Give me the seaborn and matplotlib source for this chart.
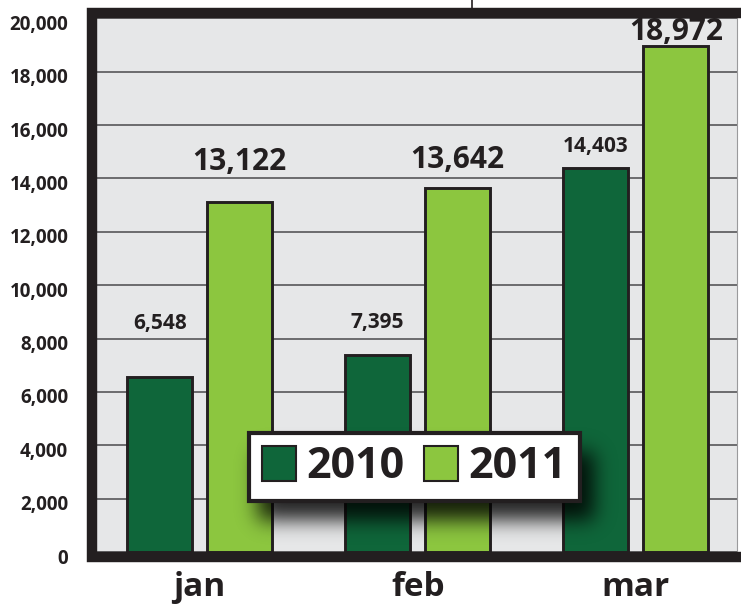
import numpy as np
import pandas as pd
import matplotlib
matplotlib.use("Agg")
import matplotlib.pyplot as plt
import matplotlib.transforms as mtransforms
from matplotlib.lines import Line2D
from matplotlib.patches import Patch
import seaborn as sns

# ---- data -------------------------------------------------------------
months = ["jan", "feb", "mar"]
years = ["2010", "2011"]
sales_2010 = [6548, 7395, 14403]
sales_2011 = [13122, 13642, 18972]
y_ticks = [0, 2000, 4000, 6000, 8000, 10000, 12000, 14000, 16000, 18000, 20000]

df = pd.DataFrame({
    "month": months * 2,
    "year": [years[0]] * 3 + [years[1]] * 3,
    "value": sales_2010 + sales_2011,
})

# ---- style ------------------------------------------------------------
W, H = 741, 607
INK = "#231f20"
DARK = "#0f663a"
LIGHT = "#8cc63f"
BG = "#e6e7e8"

sns.set_theme(style="white")
plt.rcParams["font.family"] = ["Open Sans", "DejaVu Sans"]
plt.rcParams["font.weight"] = "bold"
plt.rcParams["text.color"] = INK

fig = plt.figure(figsize=(W / 100, H / 100), dpi=100)
fig.patch.set_facecolor("white")


def fx(x):
    return x / W


def fy(y):
    return 1 - y / H


ax = fig.add_axes([fx(97), fy(552), (737 - 97) / W, (552 - 18.3) / H])
ax.set_facecolor(BG)

sns.barplot(
    data=df, x="month", y="value", hue="year", hue_order=years,
    palette=[DARK, LIGHT], saturation=1, width=0.734, gap=0.1875,
    edgecolor=INK, linewidth=2.1, errorbar=None, legend=False, ax=ax,
)

ax.set_xlim(-0.471, 2.464)
ax.set_ylim(0, 20000)
ax.set_yticks(y_ticks)
ax.set_yticklabels([f"{v:,}" for v in y_ticks])
ax.set_xlabel("")
ax.set_ylabel("")
ax.yaxis.grid(True, color="#4a4a4c", linewidth=1.1)
ax.xaxis.grid(False)
ax.set_axisbelow(True)
for side, spine in ax.spines.items():
    spine.set_visible(side == "right")
ax.spines["right"].set_color("#9a9a9c")
ax.spines["right"].set_linewidth(0.8)
ax.tick_params(axis="y", length=0, pad=20.7, labelsize=13.5, labelcolor=INK)
ax.tick_params(axis="x", length=0, pad=13.6, labelsize=24, labelcolor=INK)

# nudge the value axis labels slightly below their gridlines
shift = mtransforms.ScaledTranslation(0, -4 / 100, fig.dpi_scale_trans)
for tick in ax.yaxis.get_major_ticks():
    tick.label1.set_transform(tick.label1.get_transform() + shift)

# ---- value labels -----------------------------------------------------
label_pads = {"2010": [48, 27, 16], "2011": [32, 20, 6]}
label_sizes = {"2010": 15, "2011": 21.5}
series = {"2010": sales_2010, "2011": sales_2011}
for year, container in zip(years, ax.containers):
    for bar, value, pad in zip(container, series[year], label_pads[year]):
        ax.annotate(
            f"{value:,}",
            xy=(bar.get_x() + bar.get_width() / 2, bar.get_height()),
            xytext=(0, pad), textcoords="offset pixels",
            ha="center", va="baseline", fontsize=label_sizes[year],
            color=INK,
        )

# ---- heavy frame around the plotting area -----------------------------
frame = Line2D(
    [fx(745), fx(92), fx(92), fx(745)],
    [fy(12.8), fy(12.8), fy(557), fy(557)],
    transform=fig.transFigure, color=INK, linewidth=7.5,
    solid_joinstyle="miter", zorder=3,
)
fig.add_artist(frame)
fig.add_artist(Line2D([fx(472.3), fx(472.3)], [fy(0), fy(9)],
                      transform=fig.transFigure, color=INK,
                      linewidth=1.2, zorder=3))

# ---- soft drop shadow under the legend --------------------------------
def gauss_kernel(sigma):
    x = np.arange(-3 * sigma, 3 * sigma + 1)
    k = np.exp(-x ** 2 / (2.0 * sigma ** 2))
    return k / k.sum()


mask = np.zeros((H, W))
mask[452:520, 258:594] = 1.0
k = gauss_kernel(10)
mask = np.apply_along_axis(lambda r: np.convolve(r, k, mode="same"), 1, mask)
mask = np.apply_along_axis(lambda c: np.convolve(c, k, mode="same"), 0, mask)
shadow = np.zeros((H, W, 4))
shadow[..., 3] = 0.85 * mask
fig.figimage(shadow, xo=0, yo=0, origin="upper", zorder=1)

# ---- legend -----------------------------------------------------------
handles = [Patch(facecolor=c, edgecolor=INK, linewidth=1.5) for c in (DARK, LIGHT)]
leg = fig.legend(
    handles, years, loc="center",
    bbox_to_anchor=((247 + 582) / 2 / W, fy(467)),
    ncol=2, frameon=True, fancybox=False, fontsize=31,
    handlelength=0.78, handleheight=0.85, handletextpad=0.25,
    columnspacing=0.45, borderpad=0.3, borderaxespad=0,
    facecolor="white", edgecolor=INK, framealpha=1,
)
leg.get_frame().set_linewidth(3)
leg.set_zorder(5)

fig.savefig("out.png", dpi=100)
